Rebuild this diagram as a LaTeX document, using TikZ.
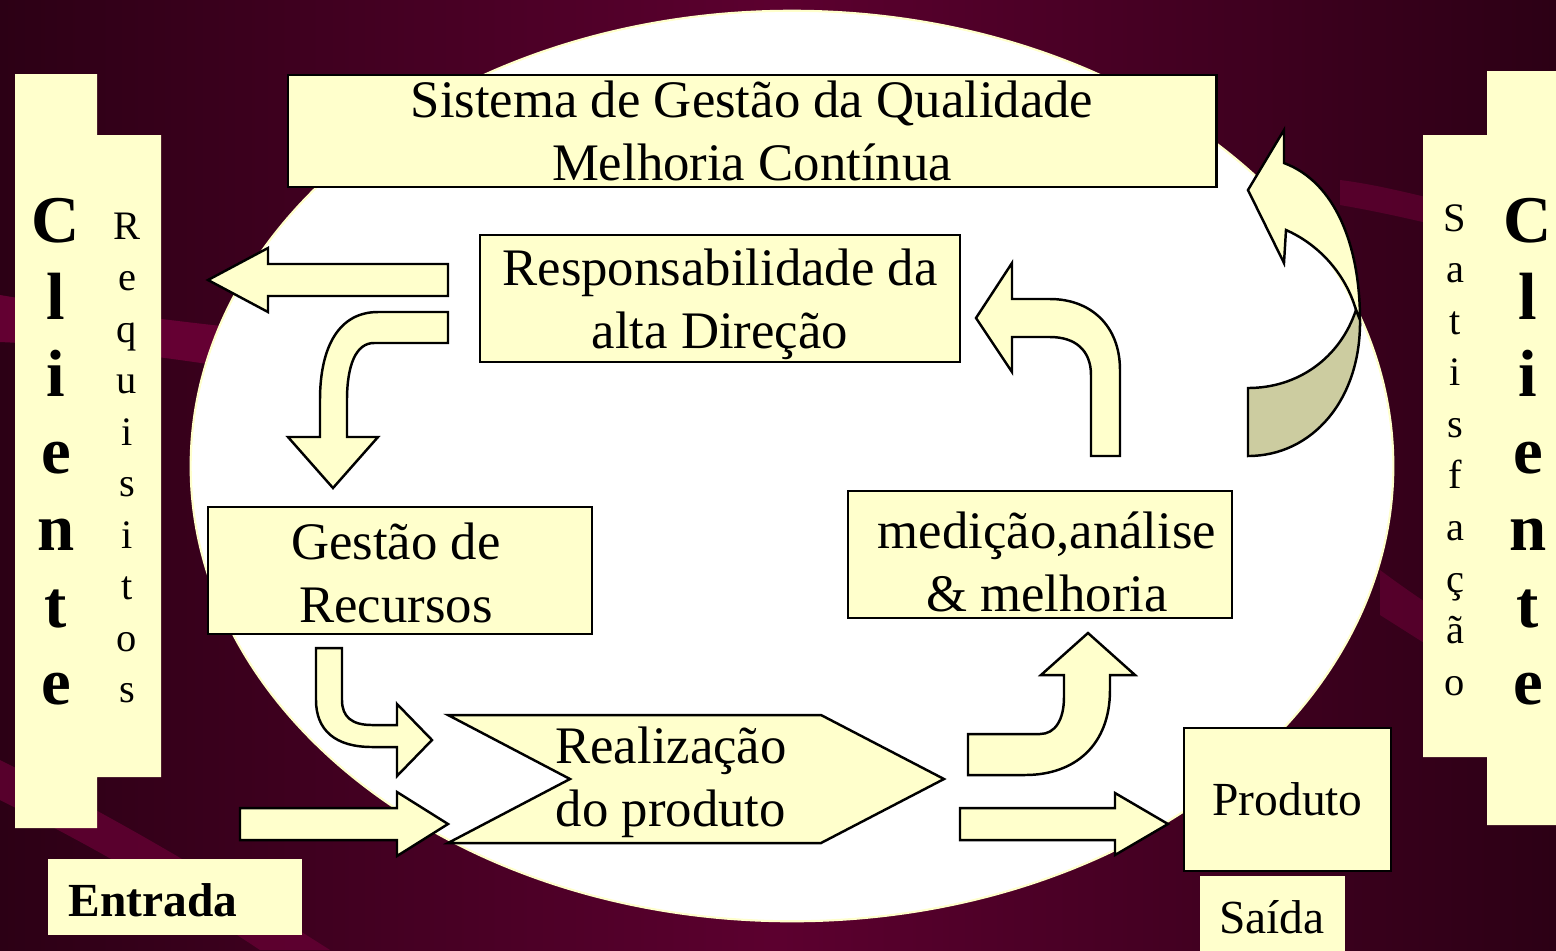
\documentclass[tikz,border=0pt]{standalone}
\usepackage{fontspec}
\setmainfont{Liberation Serif}
\definecolor{byel}{HTML}{FFFFCC}
\definecolor{bshade}{HTML}{CCCCA0}
\definecolor{bgdark}{HTML}{2C0015}
\definecolor{bgmid}{HTML}{5C002F}
\definecolor{bgband}{HTML}{6A0036}
\newcommand\lblfont{\fontsize{15}{18}\selectfont}
\newcommand\smlfont{\fontsize{13.5}{16}\selectfont}
\newcommand\cliefont{\fontsize{19}{21.9}\selectfont\bfseries}
\newcommand\colfont{\fontsize{11.5}{14.65}\selectfont}
\tikzset{
  box/.style={draw=black, fill=byel, line width=0.7pt, inner sep=0pt, align=center, font=\lblfont},
  blockarrow/.style={draw=black, fill=byel, line width=0.7pt, line join=miter},
  shadearrow/.style={draw=black, fill=bshade, line width=0.7pt},
  panel/.style={fill=byel},
  lbl/.style={font=\lblfont, align=center, inner sep=0pt},
  vcol/.style={align=center, inner sep=0pt}
}
\begin{document}
\begin{tikzpicture}[x=0.01cm,y=-0.01cm]
\useasboundingbox (0,0) rectangle (1556,950);
\clip (0,0) rectangle (1556,950);
% background
\fill[left color=bgdark, right color=bgdark, middle color=bgmid] (0,0) rectangle (1556,950);
\fill[bgband, opacity=0.9] (0,295) .. controls (100,312) and (180,322) .. (260,330) -- (260,372) .. controls (160,356) and (70,345) .. (0,342) -- cycle;
\fill[bgband, opacity=0.7] (0,760) .. controls (120,820) and (220,880) .. (330,950) -- (260,950) .. controls (170,890) and (80,840) .. (0,800) -- cycle;
\fill[bgband, opacity=0.6] (1340,180) .. controls (1380,185) and (1420,195) .. (1556,230) -- (1556,255) .. controls (1420,220) and (1380,212) .. (1340,205) -- cycle;
\fill[bgband, opacity=0.6] (1380,570) .. controls (1420,600) and (1480,640) .. (1556,680) -- (1556,720) .. controls (1480,680) and (1420,640) .. (1380,615) -- cycle;
% white ellipse
\draw[fill=white, draw=byel, line width=0.6pt] (792,466) ellipse [x radius=6.01cm, y radius=4.55cm];
% side panels
\fill[panel] (15,74) -- (97,74) -- (97,135) -- (161,135) -- (161,777) -- (97,777) -- (97,828) -- (15,828) -- cycle;
\fill[panel] (1487,71) -- (1560,71) -- (1560,825) -- (1487,825) -- (1487,757) -- (1423,757) -- (1423,135) -- (1487,135) -- cycle;
\node[vcol, font=\cliefont] (clienteL) at (56,452) {C\\l\\i\\e\\n\\t\\e};
\node[vcol, font=\colfont] (requisitos) at (127,458) {R\\e\\q\\u\\i\\s\\i\\t\\o\\s};
\node[vcol, font=\colfont] (satisfacao) at (1455,450) {S\\a\\t\\i\\s\\f\\a\\ç\\ã\\o};
\node[vcol, font=\cliefont] (clienteR) at (1528,452) {C\\l\\i\\e\\n\\t\\e};
% boxes
\node[box, minimum width=9.28cm, minimum height=1.12cm] (sgq) at (752,131) {Sistema de Gestão da Qualidade\\Melhoria Contínua};
\node[box, minimum width=4.80cm, minimum height=1.27cm] (resp) at (720,298.5) {};
\node[lbl] (resptxt) at (720,304) {Responsabilidade da\\alta Direção};
\node[box, minimum width=3.84cm, minimum height=1.27cm] (gestao) at (400,570.5) {};
\node[lbl] (gestaotxt) at (396,573) {Gestão de\\Recursos};
\node[box, minimum width=3.84cm, minimum height=1.27cm] (medicao) at (1040,554.5) {};
\node[lbl] (medtxt) at (1047,562) {medição,análise\\\& melhoria};
% realizacao chevron
\path[blockarrow] (448,715) -- (821,715) -- (944,779) -- (821,843) -- (448,843) -- (570,779) -- cycle;
\node[lbl] (realizacao) at (671,782) {Realização\\do produto};
% produto / saida / entrada
\node[box, font=\smlfont, minimum width=2.07cm, minimum height=1.43cm] (produto) at (1287.5,799.5) {Produto};
\fill[panel] (1200,876) rectangle (1345,960);
\node[font=\smlfont, inner sep=0pt] (saida) at (1272,917) {Saída};
\fill[panel] (48,859) rectangle (302,935);
\node[font=\smlfont\bfseries, anchor=west, inner sep=0pt] (entrada) at (68,900) {Entrada};
% block arrows
\path[blockarrow] (448,264) -- (268,264) -- (268,248) -- (208,280) -- (268,312) -- (268,296) -- (448,296) -- cycle;
\path[blockarrow] (448,312) -- (378,312) .. controls (340,312) and (320,345) .. (320,400) -- (320,437) -- (288,437) -- (333,488) -- (378,437) -- (347,437) -- (347,400) .. controls (347,365) and (356,343) .. (374,343) -- (448,343) -- cycle;
\path[blockarrow] (316,648) -- (342,648) -- (342,700) .. controls (342,717) and (352,725) .. (372,725) -- (397,725) -- (397,704) -- (432,740) -- (397,776) -- (397,747) -- (372,747) .. controls (335,747) and (316,730) .. (316,700) -- cycle;
\path[blockarrow] (240,808) -- (397,808) -- (397,792) -- (448,824) -- (397,856) -- (397,840) -- (240,840) -- cycle;
\path[blockarrow] (960,808) -- (1115,808) -- (1115,793) -- (1168,824) -- (1115,855) -- (1115,840) -- (960,840) -- cycle;
\path[blockarrow] (968,734) -- (1040,734) .. controls (1055,734) and (1064,720) .. (1064,697) -- (1064,675) -- (1041,675) -- (1088,633) -- (1135,675) -- (1110,675) -- (1110,690) .. controls (1110,745) and (1075,775) .. (1025,775) -- (968,775) -- cycle;
\path[blockarrow] (1091,456) -- (1120,456) -- (1120,370) .. controls (1120,325) and (1090,299) .. (1050,299) -- (1012,299) -- (1012,263) -- (976,318) -- (1012,372) -- (1012,337) -- (1050,337) .. controls (1075,337) and (1091,350) .. (1091,375) -- cycle;
% circular arrow at right
\path[blockarrow] (1284,163) .. controls (1335,182) and (1360,245) .. (1360,320) -- (1356,310) .. controls (1346,275) and (1320,245) .. (1286,230) -- (1284,263) -- (1248,190) -- (1284,130) -- cycle;
\path[shadearrow] (1248,388) .. controls (1298,388) and (1340,358) .. (1356,310) -- (1360,320) .. controls (1361,400) and (1312,456) .. (1248,456) -- cycle;
\end{tikzpicture}
\end{document}
